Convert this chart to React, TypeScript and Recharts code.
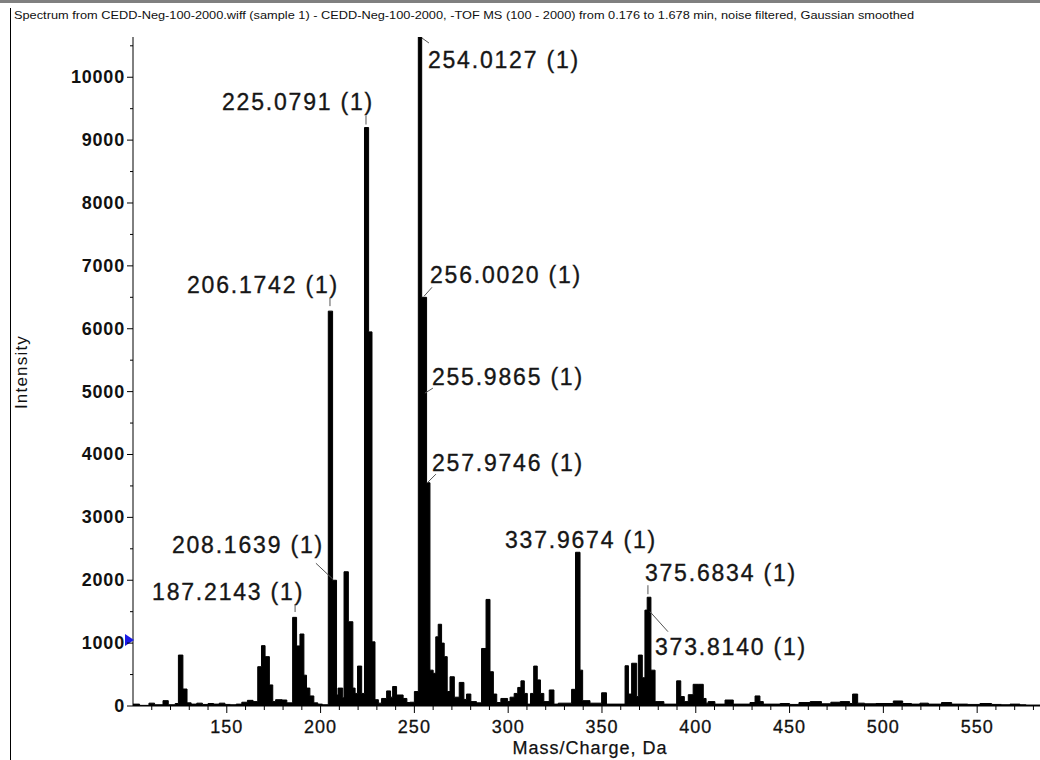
import React from "react";
import { ComposedChart, Area, XAxis, YAxis, ReferenceDot } from "recharts";

// spectrum as [m/z where the step starts, intensity]
const lowMass: [number, number][] = [
  [100, 30], [103.5, 10], [108.5, 45], [111.5, 20], [116, 85], [118.8, 20],
  [122.5, 40], [124.2, 810], [126.6, 270], [128.8, 50], [131, 30], [134, 45],
  [137, 25], [140, 40], [143, 30], [146, 45], [149, 25], [152, 20], [155, 30],
  [158, 60], [161, 90], [164, 70], [166.5, 625], [168.5, 960], [170.4, 785],
  [172.7, 335], [174.5, 70], [176, 100], [179.5, 95], [182, 50], [185.1, 1410],
  [187.2, 955], [189, 1145], [191.1, 490], [192.5, 285], [194.3, 160],
  [196.4, 50], [198.5, 30], [201, 20],
];

const mainCluster: [number, number][] = [
  [204.1, 6280], [206.4, 2000], [208.5, 175], [209.3, 285], [211.8, 130],
  [212.5, 2135], [214.8, 1340], [217.2, 285], [218.4, 200], [219.7, 635],
  [221.9, 200], [223.4, 9200], [225.6, 5950], [227.4, 1020], [229, 100],
  [230.8, 45], [232.5, 120], [235.2, 240], [237.3, 140], [238.4, 310],
  [240.5, 175], [244, 120], [246, 55], [247.6, 60], [250, 230],
  [252.1, 10640], [253.9, 6500], [256.5, 3550], [258.3, 570], [260, 520],
  [261.4, 1100], [262.7, 1300], [264.5, 1000], [265.9, 785], [267.5, 230],
  [269, 465], [271.3, 140], [273.9, 375], [276.4, 105], [277.8, 190],
  [280.1, 70], [283.1, 50], [285.8, 915], [288.2, 1695], [290.3, 545],
  [292.1, 190], [293.9, 55], [296.1, 120], [299.7, 70],
];

const midMass: [number, number][] = [
  [301, 140], [303.2, 200], [305.1, 295], [306.8, 400], [308.6, 200],
  [310.2, 30], [311.9, 200], [313.6, 635], [315.5, 415], [317.2, 200],
  [319, 70], [321.9, 255], [324.4, 30], [326.7, 45], [333.8, 265],
  [335.9, 2445], [338.3, 570], [339.7, 85], [343.6, 45], [349.8, 210],
  [352.4, 30], [362.3, 640], [364.1, 190], [365.8, 680], [368.5, 150],
  [369.4, 810], [371.5, 450], [372.9, 1525], [374.1, 1730], [376.1, 570],
  [378.3, 70], [383, 30], [389.8, 400], [392, 150], [393.9, 70], [396, 180],
  [398.6, 345], [401.3, 345], [404, 120], [405.5, 45], [406.6, 70],
  [410.2, 30], [415.6, 95], [420, 30],
];

const highMass: [number, number][] = [
  [428.9, 55], [431.6, 160], [434.2, 70], [436, 30], [445, 40], [450, 25],
  [455, 55], [461, 70], [467, 35], [472, 60], [477, 70], [482, 40],
  [483.6, 190], [486.3, 45], [490, 35], [496, 40], [505.3, 80], [510.3, 40],
  [515, 30], [519.5, 45], [524, 30], [531, 55], [536.4, 30], [545, 25],
  [551.5, 40], [557.7, 25], [563, 20], [567.5, 30], [572.8, 20], [576, 15],
  [583.5, 15],
];

const spectrum = [...lowMass, ...mainCluster, ...midMass, ...highMass].map(
  ([mz, intensity]) => ({ mz, intensity })
);

const xTicks = [
  110, 120, 130, 140, 150, 160, 170, 180, 190, 200, 210, 220, 230, 240, 250,
  260, 270, 280, 290, 300, 310, 320, 330, 340, 350, 360, 370, 380, 390, 400,
  410, 420, 430, 440, 450, 460, 470, 480, 490, 500, 510, 520, 530, 540, 550,
  560, 570, 580,
];
const yTicks = [
  0, 500, 1000, 1500, 2000, 2500, 3000, 3500, 4000, 4500, 5000, 5500, 6000,
  6500, 7000, 7500, 8000, 8500, 9000, 9500, 10000, 10500,
];

// peak annotations: text and the point on the spectrum it points at
const peaks = [
  { text: "254.0127 (1)", mz: 253.5, intensity: 10640 },
  { text: "225.0791 (1)", mz: 224.2, intensity: 9200 },
  { text: "206.1742 (1)", mz: 205.0, intensity: 6280 },
  { text: "256.0020 (1)", mz: 254.6, intensity: 6500 },
  { text: "255.9865 (1)", mz: 255.6, intensity: 4976 },
  { text: "257.9746 (1)", mz: 256.7, intensity: 3545 },
  { text: "208.1639 (1)", mz: 207.1, intensity: 2000 },
  { text: "187.2143 (1)", mz: 186.4, intensity: 1415 },
  { text: "337.9674 (1)", mz: 337.2, intensity: 2445 },
  { text: "375.6834 (1)", mz: 374.5, intensity: 1730 },
  { text: "373.8140 (1)", mz: 375.6, intensity: 1500 },
];

// pixel offsets from the anchor: leader start, leader end, text start
const labelLayout: Record<string, number[] | null>[] = [
  { lead: [1, 1, 8, 6], txt: [7, 31] },
  { lead: [0, -12, 0, -3], txt: [-144, -18] },
  { lead: [0, -13, 0, -5], txt: [-143, -18] },
  { lead: [1, -1, 9, -10], txt: [7, -14] },
  { lead: [0, 0, 8, -5], txt: [7, -8] },
  { lead: [0, 0, 9, -9], txt: [5, -12] },
  { lead: [-1, -1, -18, -17], txt: [-162, -27] },
  { lead: [0, -13, 0, -5], txt: [-143, -17] },
  { lead: null, txt: [-73, -4] },
  { lead: [0, -12, 0, -3], txt: [-3, -16] },
  { lead: [0, 0, 18, 20], txt: [5, 43] },
];

const FONT = "'Liberation Sans', Arial, sans-serif";

const XTick = (props: any) => {
  const { x, y, payload } = props;
  const major = payload.value % 50 === 0;
  return (
    <g>
      <line x1={x} y1={y} x2={x} y2={y + (major ? 7 : 4)} stroke="#000" />
      {major && (
        <text x={x} y={y + 27} textAnchor="middle" fontSize={18} fill="#111"
          stroke="#111" strokeWidth={0.3} fontFamily={FONT} letterSpacing={1}>
          {payload.value}
        </text>
      )}
    </g>
  );
};

const YTick = (props: any) => {
  const { x, y, payload } = props;
  const major = payload.value % 1000 === 0;
  return (
    <g>
      <line x1={x - (major ? 6 : 3)} y1={y} x2={x} y2={y} stroke="#000" />
      {major && (
        <text x={x - 8} y={y + 6} textAnchor="end" fontSize={18} fontWeight="bold"
          fill="#111" fontFamily={FONT} letterSpacing={0.8}>
          {payload.value}
        </text>
      )}
    </g>
  );
};

function PeakLabel({ cx, cy, idx }: any) {
  const p = peaks[idx];
  const l = labelLayout[idx];
  const lead = l.lead;
  const t = l.txt as number[];
  return (
    <g>
      {lead && (
        <line x1={cx + lead[0]} y1={cy + lead[1]} x2={cx + lead[2]} y2={cy + lead[3]}
          stroke="#555" strokeWidth={1} />
      )}
      <text x={cx + t[0]} y={cy + t[1]} fontSize={23} fill="#161616"
        stroke="#161616" strokeWidth={0.35} fontFamily={FONT} letterSpacing={1.8}>
        {p.text}
      </text>
    </g>
  );
}

export default function App() {
  return (
    <div style={{ position: "absolute", left: 0, top: 0, width: 1040, height: 760, background: "#fff", overflow: "hidden" }}>
      <div style={{ position: "absolute", left: 0, top: 0, width: 1040, height: 3, background: "#808080" }} />
      <div style={{ position: "absolute", left: 10, top: 8, width: 1, height: 752, background: "#000" }} />
      <ComposedChart
        width={1040}
        height={760}
        data={spectrum}
        margin={{ top: 37, right: 0, left: 0, bottom: 0 }}
        style={{ position: "absolute", left: 0, top: 0 }}
      >
        <XAxis
          dataKey="mz"
          type="number"
          domain={[100, 583.5]}
          allowDataOverflow
          ticks={xTicks}
          interval={0}
          height={54}
          tickSize={0}
          tickMargin={0}
          tickLine={false}
          axisLine={{ stroke: "#000" }}
          tick={<XTick />}
        />
        <YAxis
          type="number"
          domain={[0, 10640]}
          allowDataOverflow
          ticks={yTicks}
          interval={0}
          width={133}
          tickSize={0}
          tickMargin={0}
          tickLine={false}
          axisLine={{ stroke: "#000" }}
          tick={<YTick />}
        />
        <Area
          type="stepAfter"
          dataKey="intensity"
          stroke="#000"
          strokeWidth={1}
          fill="#000"
          fillOpacity={1}
          dot={false}
          activeDot={false}
          isAnimationActive={false}
        />
        <ReferenceDot
          x={100}
          y={1050}
          r={0}
          ifOverflow="visible"
          shape={(p: any) => (
            <polygon
              points={`${p.cx - 8},${p.cy - 6} ${p.cx + 1},${p.cy} ${p.cx - 8},${p.cy + 6}`}
              fill="#1a1ae6"
            />
          )}
        />
        {peaks.map((p, i) => (
          <ReferenceDot
            key={p.text}
            x={p.mz}
            y={p.intensity}
            r={0}
            ifOverflow="visible"
            shape={(s: any) => <PeakLabel cx={s.cx} cy={s.cy} idx={i} />}
          />
        ))}
      </ComposedChart>
      <svg width={1040} height={760} style={{ position: "absolute", left: 0, top: 0, pointerEvents: "none" }}>
        <text x={14} y={19} fontSize={11.5} fontFamily={FONT} fill="#111"
          textLength={900} lengthAdjust="spacingAndGlyphs">
          Spectrum from CEDD-Neg-100-2000.wiff (sample 1) - CEDD-Neg-100-2000, -TOF MS (100 - 2000) from 0.176 to 1.678 min, noise filtered, Gaussian smoothed
        </text>
        <text x={27} y={372} fontSize={17} fontFamily={FONT} fill="#111"
          textAnchor="middle" letterSpacing={1.2} transform="rotate(-90 27 372)">
          Intensity
        </text>
        <text x={590} y={754} fontSize={18} fontFamily={FONT} fill="#111"
          stroke="#111" strokeWidth={0.25} textAnchor="middle" letterSpacing={1}>
          Mass/Charge, Da
        </text>
      </svg>
    </div>
  );
}
